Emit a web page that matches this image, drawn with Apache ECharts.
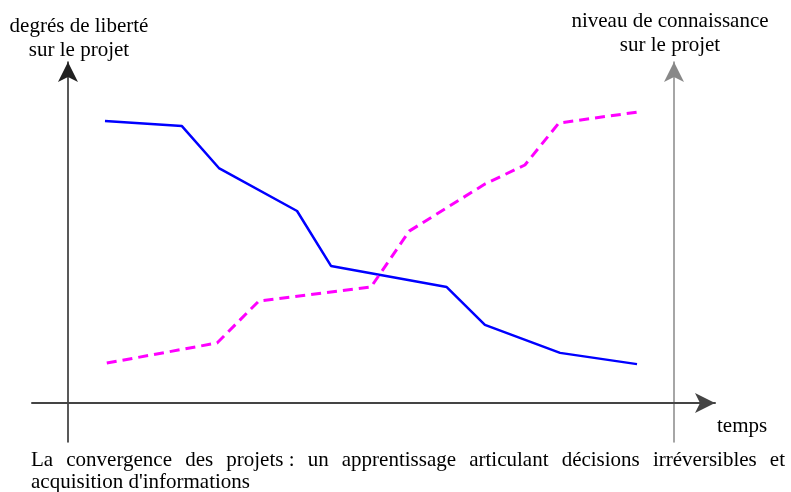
<!DOCTYPE html>
<html>
<head>
<meta charset="utf-8">
<script src="https://cdn.jsdelivr.net/npm/echarts@6/dist/echarts.min.js"></script>
<style>
  html, body { margin: 0; padding: 0; background: #fff; }
  #main { width: 791px; height: 492px; }
</style>
</head>
<body>
<div id="main"></div>
<script>
// temps (0 = origine, 100 = axe de droite)
var libertyX = [6.1, 18.8, 24.9, 37.8, 43.4, 62.5, 68.8, 81.2, 93.9];
var libertyY = [82.7, 81.2, 68.9, 56.3, 40.2, 34.0, 22.9, 14.7, 11.4];
var knowledgeX = [6.4, 24.6, 31.5, 50.0, 56.3, 68.8, 75.4, 81.0, 93.9];
var knowledgeY = [11.7, 17.6, 29.9, 34.0, 50.4, 64.2, 69.8, 82.1, 85.3];

var leftTitle = 'degrés de liberté\nsur le projet';
var rightTitle = 'niveau de connaissance\nsur le projet';
var xTitle = 'temps';
var caption1 = ['La', 'convergence', 'des', 'projets\u00a0:', 'un', 'apprentissage', 'articulant', 'décisions', 'irréversibles', 'et'];
var caption2 = "acquisition d'informations";

function pairs(xs, ys) {
  return xs.map(function (x, i) { return [x, ys[i]]; });
}

var FONT = '21px "Liberation Serif"';

// ligne 1 de la legende justifiee
function justified(words, x0, x1, y) {
  var ctx = document.createElement('canvas').getContext('2d');
  ctx.font = FONT;
  var widths = words.map(function (w) { return ctx.measureText(w).width; });
  var total = widths.reduce(function (a, b) { return a + b; }, 0);
  var gap = (x1 - x0 - total) / (words.length - 1);
  var out = [];
  var x = x0;
  words.forEach(function (w, i) {
    out.push({ type: 'text', x: x, y: y, style: { text: w, font: FONT, fill: '#000' } });
    x += widths[i] + gap;
  });
  return out;
}

var chart = echarts.init(document.getElementById('main'));

var graphics = [
  { type: 'text', x: 79, y: 14, style: { text: leftTitle, font: FONT, lineHeight: 24, fill: '#000', align: 'center' } },
  { type: 'text', x: 670, y: 9, style: { text: rightTitle, font: FONT, lineHeight: 24, fill: '#000', align: 'center' } },
  { type: 'text', x: 717, y: 414, style: { text: xTitle, font: FONT, lineHeight: 24, fill: '#000' } },
  { type: 'text', x: 31, y: 472, style: { text: caption2, font: FONT, fill: '#000' } }
].concat(justified(caption1, 31, 785, 450));

var option = {
  animation: false,
  backgroundColor: '#fff',
  grid: { left: 32, right: 76, top: 62, bottom: 50 },
  xAxis: {
    type: 'value',
    min: -5.94,
    max: 106.77,
    axisLine: {
      onZero: true,
      lineStyle: { color: '#444', width: 2 },
      symbol: ['none', 'arrow'],
      symbolSize: [15, 20]
    },
    axisTick: { show: false },
    axisLabel: { show: false },
    splitLine: { show: false }
  },
  yAxis: [
    {
      type: 'value',
      min: -11.44,
      max: 100,
      axisLine: {
        show: true,
        onZero: true,
        lineStyle: { color: '#222', width: 1.5 },
        symbol: ['none', 'arrow'],
        symbolSize: [15, 20]
      },
      axisTick: { show: false },
      axisLabel: { show: false },
      splitLine: { show: false }
    },
    {
      type: 'value',
      position: 'right',
      offset: -41,
      min: -11.44,
      max: 100,
      axisLine: {
        show: true,
        onZero: false,
        lineStyle: { color: '#888', width: 1.5 },
        symbol: ['none', 'arrow'],
        symbolSize: [15, 20]
      },
      axisTick: { show: false },
      axisLabel: { show: false },
      splitLine: { show: false }
    }
  ],
  series: [
    {
      name: 'degrés de liberté',
      type: 'line',
      data: pairs(libertyX, libertyY),
      showSymbol: false,
      symbol: 'none',
      lineStyle: { color: '#0000ff', width: 2.5 }
    },
    {
      name: 'niveau de connaissance',
      type: 'line',
      data: pairs(knowledgeX, knowledgeY),
      showSymbol: false,
      symbol: 'none',
      lineStyle: { color: '#ff00ff', width: 3, type: [10, 6] }
    }
  ],
  graphic: graphics
};

chart.setOption(option);
</script>
</body>
</html>
